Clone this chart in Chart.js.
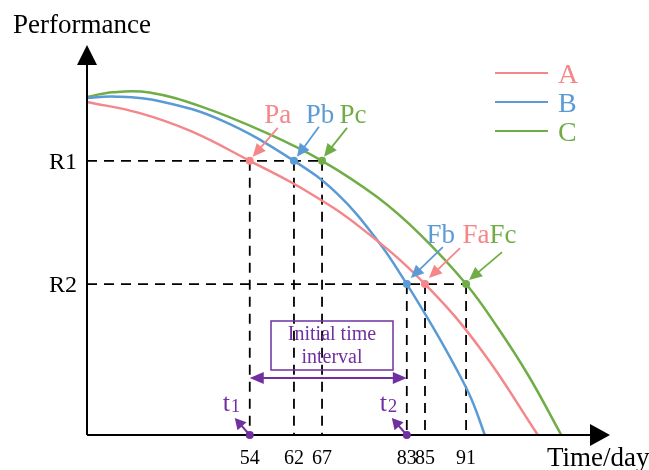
<!DOCTYPE html>
<html lang="en">
  <head>
    <meta charset="UTF-8" />
    <title>Performance degradation</title>
    <style>
      body {
        margin: 0;
        background: #fff;
      }
      #wrap {
        width: 649px;
        height: 470px;
      }
    </style>
  </head>
  <body>
    <div id="wrap"><canvas id="chart" width="649" height="470"></canvas></div>
    <script src="https://cdn.jsdelivr.net/npm/chart.js@4.4.0/dist/chart.umd.min.js"></script>
    <script>
      // schematic chart: time axis 0..100, performance axis 0..100 (not to scale)
      let seriesNames = ['A', 'B', 'C'];
      let seriesColors = ['#f4878a', '#5b9bd5', '#70ad47'];

      let timeA = [0, 10, 20, 31.3, 42, 52.5, 65.0, 76, 86.7];
      let perfA = [85.4, 82.6, 77.9, 70.3, 62.7, 53.3, 38.7, 21.5, 0];

      let timeB = [0, 5, 14, 26, 39.8, 48, 55.8, 61.5, 66.5, 71, 74, 76.5];
      let perfB = [86.4, 86.8, 85.6, 80.6, 70.3, 62, 50, 38.7, 27.7, 17, 9, 0];

      let timeC = [0, 5, 12, 22, 34.6, 45.2, 55.8, 64, 72.9, 79, 85, 91.2];
      let perfC = [86.7, 87.9, 87.8, 84.2, 77.4, 70.3, 61.0, 51.5, 38.7, 27.5, 15, 0];

      // day tick labels and where they sit on the schematic time axis
      let dayLabels = ['54', '62', '67', '83', '85', '91'];
      let dayPos = [31.3, 39.8, 45.2, 61.5, 65.0, 72.9];

      let levelLabels = ['R1', 'R2'];
      let levelValues = [70.3, 38.7];

      // reliability-threshold crossings: [series index, day index, level index, label]
      let crossPoints = [
        [0, 0, 0, 'Pa'],
        [1, 1, 0, 'Pb'],
        [2, 2, 0, 'Pc'],
        [1, 3, 1, 'Fb'],
        [0, 4, 1, 'Fa'],
        [2, 5, 1, 'Fc'],
      ];

      let purple = '#7030a0';
      let serif = '"Liberation Serif", "Times New Roman", serif';

      function toXY(xs, ys) {
        return xs.map((x, i) => ({ x: x, y: ys[i] }));
      }

      function arrowHead(ctx, x1, y1, x2, y2, len, half) {
        let a = Math.atan2(y2 - y1, x2 - x1);
        ctx.beginPath();
        ctx.moveTo(x2, y2);
        ctx.lineTo(x2 - len * Math.cos(a) + half * Math.sin(a), y2 - len * Math.sin(a) - half * Math.cos(a));
        ctx.lineTo(x2 - len * Math.cos(a) - half * Math.sin(a), y2 - len * Math.sin(a) + half * Math.cos(a));
        ctx.closePath();
        ctx.fill();
      }

      function arrow(ctx, x1, y1, x2, y2, color, width, len, half) {
        let a = Math.atan2(y2 - y1, x2 - x1);
        ctx.strokeStyle = color;
        ctx.fillStyle = color;
        ctx.lineWidth = width;
        ctx.beginPath();
        ctx.moveTo(x1, y1);
        ctx.lineTo(x2 - len * 0.8 * Math.cos(a), y2 - len * 0.8 * Math.sin(a));
        ctx.stroke();
        arrowHead(ctx, x1, y1, x2, y2, len, half);
      }

      // label offsets from the marked point (pixels): text centre, baseline, arrow tail, arrow tip
      let labelOffsets = {
        Pa: [28, -38, 28, -33, 3, -4],
        Pb: [26, -38, 25, -34, 3, -4],
        Pc: [31, -38, 25, -33, 2, -4],
        Fb: [34, -41, 36, -37, 4, -6],
        Fa: [51, -41, 35, -36, 4, -6],
        Fc: [37, -41, 36, -32, 3, -4],
      };

      const extras = {
        id: 'extras',
        beforeDatasetsDraw(chart) {
          let ctx = chart.ctx;
          let xs = chart.scales.x;
          let ys = chart.scales.y;
          ctx.save();
          ctx.strokeStyle = '#000';
          ctx.lineWidth = 1.8;
          ctx.setLineDash([10, 7]);
          levelValues.forEach((v, li) => {
            let far = 0;
            crossPoints.forEach((p) => {
              if (p[2] === li) far = Math.max(far, dayPos[p[1]]);
            });
            ctx.beginPath();
            ctx.moveTo(xs.getPixelForValue(0), ys.getPixelForValue(v));
            ctx.lineTo(xs.getPixelForValue(far), ys.getPixelForValue(v));
            ctx.stroke();
          });
          crossPoints.forEach((p) => {
            let px = xs.getPixelForValue(dayPos[p[1]]);
            ctx.beginPath();
            ctx.moveTo(px, ys.getPixelForValue(levelValues[p[2]]));
            ctx.lineTo(px, ys.getPixelForValue(0));
            ctx.stroke();
          });
          ctx.restore();
        },
        afterDraw(chart) {
          let ctx = chart.ctx;
          let xs = chart.scales.x;
          let ys = chart.scales.y;
          let x0 = xs.getPixelForValue(0);
          let y0 = ys.getPixelForValue(0);
          ctx.save();
          ctx.setLineDash([]);

          // axes with arrow heads
          arrow(ctx, x0, y0, x0, ys.getPixelForValue(100), '#000', 2, 20, 10);
          arrow(ctx, x0, y0, xs.getPixelForValue(100) + 3, y0, '#000', 2, 20, 11);

          ctx.fillStyle = '#000';
          ctx.textBaseline = 'alphabetic';
          ctx.font = '27px ' + serif;
          ctx.textAlign = 'left';
          ctx.fillText('Performance', 13, 33);
          ctx.fillText('Time/day', 547, 466);

          ctx.font = '24px ' + serif;
          ctx.textAlign = 'right';
          levelLabels.forEach((t, i) => {
            ctx.fillText(t, 77, ys.getPixelForValue(levelValues[i]) + 8);
          });

          ctx.font = '20px ' + serif;
          ctx.textAlign = 'center';
          dayLabels.forEach((t, i) => {
            ctx.fillText(t, xs.getPixelForValue(dayPos[i]), 464);
          });

          // point labels with arrows
          ctx.font = '27px ' + serif;
          crossPoints.forEach((p) => {
            let px = xs.getPixelForValue(dayPos[p[1]]);
            let py = ys.getPixelForValue(levelValues[p[2]]);
            let o = labelOffsets[p[3]];
            let c = seriesColors[p[0]];
            ctx.fillStyle = c;
            ctx.textAlign = 'center';
            ctx.fillText(p[3], px + o[0], py + o[1]);
            arrow(ctx, px + o[2], py + o[3], px + o[4], py + o[5], c, 1.8, 13, 6);
          });

          // initial time interval
          let t1 = xs.getPixelForValue(dayPos[0]);
          let t2 = xs.getPixelForValue(dayPos[3]);
          ctx.strokeStyle = purple;
          ctx.fillStyle = purple;
          ctx.lineWidth = 1.5;
          ctx.strokeRect(271, 321, 122, 49);
          ctx.font = '20px ' + serif;
          ctx.textAlign = 'center';
          ctx.fillText('Initial time', 332, 340);
          ctx.fillText('interval', 332, 363);
          ctx.lineWidth = 2;
          ctx.beginPath();
          ctx.moveTo(t1 + 10, 378);
          ctx.lineTo(t2 - 10, 378);
          ctx.stroke();
          arrowHead(ctx, t2, 378, t1, 378, 14, 6);
          arrowHead(ctx, t1, 378, t2, 378, 14, 6);

          [[t1, '1'], [t2, '2']].forEach((t) => {
            arrow(ctx, t[0], y0, t[0] - 15, y0 - 17, purple, 2, 11, 6);
            ctx.beginPath();
            ctx.arc(t[0], y0, 4, 0, Math.PI * 2);
            ctx.fill();
            ctx.textAlign = 'left';
            ctx.font = '26px ' + serif;
            ctx.fillText('t', t[0] - 27, 411);
            ctx.font = '19px ' + serif;
            ctx.fillText(t[1], t[0] - 19, 412);
          });

          // legend
          ctx.lineWidth = 2;
          seriesNames.forEach((n, i) => {
            let ly = 73 + i * 29;
            ctx.strokeStyle = seriesColors[i];
            ctx.fillStyle = seriesColors[i];
            ctx.beginPath();
            ctx.moveTo(495, ly);
            ctx.lineTo(548, ly);
            ctx.stroke();
            ctx.font = '28px ' + serif;
            ctx.textAlign = 'left';
            ctx.fillText(n, 558, ly + 10);
          });
          ctx.restore();
        },
      };

      let curveSets = [toXY(timeA, perfA), toXY(timeB, perfB), toXY(timeC, perfC)].map((d, i) => ({
        type: 'line',
        data: d,
        borderColor: seriesColors[i],
        borderWidth: 2.5,
        pointRadius: 0,
        tension: 0.4,
        fill: false,
        clip: false,
      }));

      let markerSet = {
        type: 'scatter',
        data: crossPoints.map((p) => ({ x: dayPos[p[1]], y: levelValues[p[2]] })),
        pointRadius: 4,
        pointBorderWidth: 0,
        pointBackgroundColor: crossPoints.map((p) => seriesColors[p[0]]),
        showLine: false,
        clip: false,
      };

      new Chart(document.getElementById('chart'), {
        type: 'line',
        data: { datasets: [markerSet].concat(curveSets) },
        plugins: [extras],
        options: {
          responsive: false,
          animation: false,
          layout: { padding: { left: 87, right: 42, top: 45, bottom: 35 } },
          plugins: { legend: { display: false }, tooltip: { enabled: false } },
          scales: {
            x: { type: 'linear', min: 0, max: 100, display: false },
            y: { type: 'linear', min: 0, max: 100, display: false },
          },
        },
      });
    </script>
  </body>
</html>
